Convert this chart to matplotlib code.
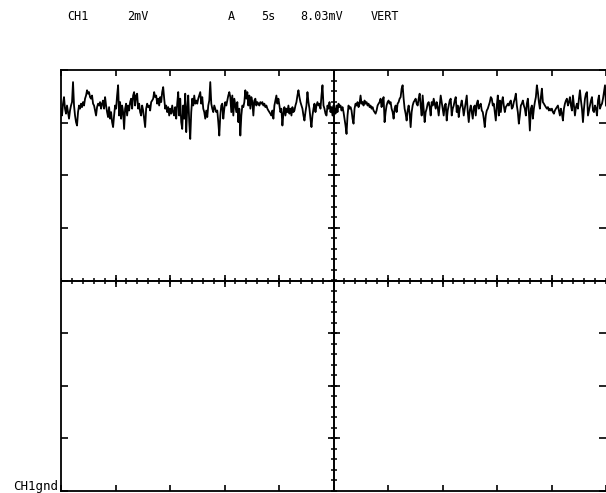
"""
Recreate scope screen capture: CH1 2mV/div, 5s/div, noisy trace near top.
Saves to out.png
"""

import numpy as np
import matplotlib.pyplot as plt

# Screen setup
time_per_div = 5.0     # s/div
volts_per_div = 2.0    # mV/div
n_div_x = 10
n_div_y = 8

header_texts = ['CH1', '2mV', 'A', '5s', '8.03mV', 'VERT']
header_x_px = [67, 127, 228, 261, 300, 371]
gnd_label = 'CH1gnd'

# Trace values in mV, read left to right across the screen (4 chunks)
trace_1 = [6.53, 6.27, 6.72, 6.97, 6.53, 6.34, 6.65, 6.40, 6.15, 6.46, 6.65, 6.78, 7.54, 6.65,
           6.27, 6.02, 5.89, 6.40, 6.65, 6.53, 6.72, 6.59, 6.78, 6.65, 6.91, 7.03, 7.23, 7.10,
           7.16, 6.97, 6.91, 7.03, 6.72, 6.65, 6.46, 6.27, 6.59, 6.72, 6.65, 6.78, 6.53, 6.72,
           6.84, 6.53, 6.97, 6.65, 6.40, 6.21, 6.59, 6.15, 6.40, 6.02, 5.83, 6.27, 6.65, 6.53,
           7.03, 7.42, 6.27, 6.78, 6.15, 6.65, 6.40, 5.76, 6.53, 6.72, 6.27, 6.65, 6.46, 6.78,
           6.91, 6.53, 7.03, 7.16, 6.65, 7.03, 7.10, 6.53, 6.72, 6.40, 6.27, 6.65, 6.46, 6.15,
           5.83, 6.53, 6.72, 6.59, 6.65, 6.46, 6.78, 6.84, 6.91, 7.16, 6.97, 7.03, 6.72, 6.91,
           6.65, 6.97, 6.78, 7.16, 7.35, 6.91, 6.53, 6.65, 6.40, 6.59, 6.27, 6.53, 6.34, 6.65,
           6.40, 6.27, 6.59, 6.15, 6.72, 7.16, 6.27, 6.91, 6.02, 5.76, 6.65, 6.15, 7.10, 5.64,
           6.53, 7.03, 6.02, 5.38, 6.40, 6.91, 6.65, 7.03, 6.72, 6.84]
trace_2 = [6.72, 6.91, 7.03, 7.16, 6.72, 6.97, 6.53, 6.40, 6.15, 6.46, 6.21, 6.65, 6.84, 7.54,
           6.72, 6.53, 6.40, 6.65, 6.53, 6.40, 6.46, 6.02, 5.51, 6.27, 6.65, 6.72, 6.15, 6.53,
           6.78, 6.65, 6.84, 7.03, 7.16, 6.97, 6.40, 7.03, 6.27, 6.91, 6.65, 6.40, 6.78, 6.02,
           6.53, 5.51, 6.27, 6.65, 6.59, 6.78, 7.23, 6.91, 7.16, 6.65, 7.03, 6.53, 6.97, 6.78,
           6.27, 6.84, 6.91, 6.65, 6.78, 6.72, 6.65, 6.78, 6.72, 6.78, 6.65, 6.72, 6.59, 6.65,
           6.53, 6.46, 6.40, 6.34, 6.27, 6.46, 6.15, 6.65, 6.84, 7.03, 6.72, 6.91, 6.65, 6.40,
           6.53, 5.89, 6.34, 6.59, 6.27, 6.53, 6.40, 6.65, 6.34, 6.53, 6.27, 6.59, 6.40, 6.46,
           6.65, 6.78, 7.03, 7.23, 6.97, 6.78, 6.65, 6.53, 6.27, 6.08, 6.40, 6.65, 7.16, 6.78,
           6.53, 6.15, 5.83, 6.27, 6.53, 6.72, 6.40, 6.65, 6.78, 6.65, 6.72, 6.53, 7.03, 7.42,
           6.65, 6.53, 6.34, 6.27, 6.65, 6.53, 6.78, 6.40, 6.59, 6.27, 6.65]
trace_3 = [6.53, 6.34, 6.65, 6.40, 6.72, 6.59, 6.65, 6.46, 6.59, 6.40, 6.15, 5.89, 5.57, 6.27,
           6.65, 6.53, 6.59, 6.46, 6.15, 5.96, 6.53, 6.72, 6.65, 6.78, 6.59, 6.72, 7.03, 6.72,
           6.78, 6.65, 6.84, 6.72, 6.78, 6.65, 6.72, 6.59, 6.65, 6.53, 6.59, 6.46, 6.40, 6.34,
           6.46, 6.65, 6.72, 6.78, 6.91, 6.59, 6.84, 6.97, 6.02, 6.40, 6.65, 6.78, 6.84, 6.72,
           6.78, 6.53, 6.40, 6.15, 6.53, 6.65, 6.40, 6.72, 6.78, 6.91, 6.97, 7.29, 7.42, 6.91,
           6.53, 6.34, 6.08, 6.46, 6.65, 6.34, 5.83, 6.40, 6.65, 6.78, 6.84, 6.91, 6.72, 6.65,
           6.91, 7.10, 6.65, 6.27, 7.03, 6.53, 6.02, 6.40, 6.53, 6.72, 6.78, 6.59, 6.27, 6.78,
           6.65, 6.91, 6.72, 6.53, 6.78, 6.59, 6.27, 6.65, 7.03, 6.78, 6.53, 6.27, 6.65, 6.72,
           6.08, 6.46, 6.65, 6.84, 6.91, 6.27, 6.53, 6.65, 6.84, 6.97, 6.40, 6.65, 6.21, 6.53,
           6.65, 6.84, 6.59, 6.27, 6.53, 6.78, 7.03, 6.40, 6.02, 6.46, 6.65]
trace_4 = [6.40, 6.15, 6.59, 6.65, 6.27, 6.72, 6.84, 6.53, 6.65, 6.72, 6.46, 6.40, 6.15, 5.83,
           6.27, 6.46, 6.53, 6.65, 6.78, 6.97, 6.91, 6.65, 6.72, 6.40, 6.08, 6.65, 7.03, 6.27,
           6.84, 6.40, 6.78, 6.97, 6.65, 6.40, 6.59, 6.65, 6.72, 6.65, 6.78, 6.84, 6.53, 6.59,
           6.78, 6.91, 7.10, 6.65, 6.40, 5.96, 6.27, 6.65, 6.72, 6.84, 6.65, 6.53, 6.27, 6.72,
           6.91, 6.40, 5.70, 6.53, 6.65, 6.15, 6.53, 6.78, 6.97, 7.42, 7.16, 6.78, 6.53, 6.97,
           7.29, 6.78, 6.72, 6.65, 6.59, 6.53, 6.59, 6.46, 6.53, 6.46, 6.53, 6.40, 6.34, 6.46,
           6.53, 6.59, 6.65, 6.46, 6.27, 6.53, 6.34, 6.08, 6.53, 6.72, 6.84, 6.91, 6.65, 6.78,
           6.97, 6.65, 6.46, 7.03, 6.65, 6.27, 6.59, 6.72, 6.53, 6.91, 7.23, 6.84, 6.53, 6.02,
           6.53, 6.91, 7.10, 7.16, 6.27, 6.46, 6.65, 6.84, 6.97, 6.46, 6.40, 6.65, 6.53, 6.27,
           6.84, 7.03, 6.53, 6.65, 6.72, 6.91, 7.16, 7.42, 6.65]

trace = np.array(trace_1 + trace_2 + trace_3 + trace_4)
t_end = time_per_div * n_div_x
v_half = volts_per_div * n_div_y / 2
t = np.linspace(0, t_end, len(trace))

W, H = 606, 493
fig = plt.figure(figsize=(W / 100, H / 100), dpi=100)
fig.patch.set_facecolor('white')
ax = fig.add_axes([61 / W, 2 / H, 545 / W, 421 / H])

ax.plot(t, trace, color='black', lw=1.3)

ax.set_xlim(0, t_end)
ax.set_ylim(-v_half, v_half)

# border: left/top/bottom only, inward division ticks
for side in ['left', 'top', 'bottom']:
    ax.spines[side].set_linewidth(1.3)
ax.spines['right'].set_visible(False)
ax.set_xticks(np.arange(0, t_end + 0.01, time_per_div))
ax.set_yticks(np.arange(-v_half, v_half + 0.01, volts_per_div))
ax.tick_params(direction='in', length=4, width=1.2, top=True, right=True,
               labelbottom=False, labelleft=False)
ax.tick_params(axis='y', which='major', left=True, length=5)

# center graticule with small ticks
ax.axvline(t_end / 2, color='black', lw=1.4)
ax.axhline(0, color='black', lw=1.4)
xs_minor = np.arange(0, t_end + 0.01, time_per_div / 5)
ys_minor = np.arange(-v_half, v_half + 0.01, volts_per_div / 5)
ax.plot(xs_minor, np.zeros_like(xs_minor), ls='none', marker='|', ms=5, mew=1.1, color='black')
ax.plot(np.full_like(ys_minor, t_end / 2), ys_minor, ls='none', marker='_', ms=5, mew=1.1, color='black')
xs_major = np.arange(time_per_div, t_end, time_per_div)
ys_major = np.arange(-v_half + volts_per_div, v_half, volts_per_div)
ax.plot(xs_major, np.zeros_like(xs_major), ls='none', marker='|', ms=9, mew=1.2, color='black')
ax.plot(np.full_like(ys_major, t_end / 2), ys_major, ls='none', marker='_', ms=9, mew=1.2, color='black')

# readout line
for txt, xp in zip(header_texts, header_x_px):
    fig.text(xp / W, 1 - 16 / H, txt, ha='left', va='center',
             family='DejaVu Sans Mono', fontsize=8.5)
fig.text(58 / W, 1 - 490 / H, gnd_label, ha='right', va='baseline',
         family='DejaVu Sans Mono', fontsize=9)

fig.savefig('out.png', dpi=100, facecolor='white')
